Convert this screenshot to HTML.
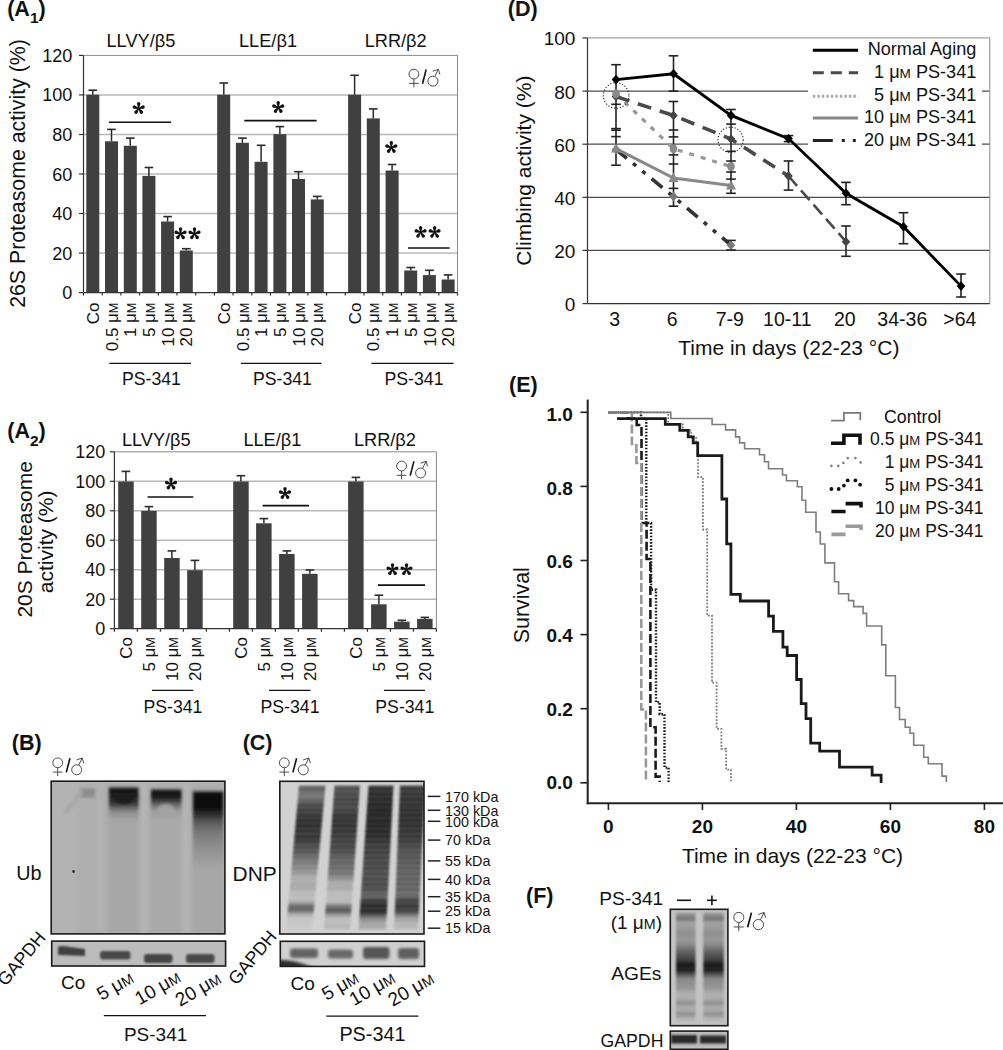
<!DOCTYPE html>
<html><head><meta charset="utf-8"><style>
html,body{margin:0;padding:0;background:#fff;overflow:hidden;}
svg{display:block;font-family:"Liberation Sans", sans-serif;}
</style></head><body>
<svg width="1003" height="1050" viewBox="0 0 1003 1050">
<rect width="1003" height="1050" fill="#fff"/>
<text x="7.2" y="15.7" font-size="21.5" text-anchor="start" font-weight="bold" fill="#111" >(A<tspan font-size="15.5" dy="7.2">1</tspan><tspan dy="-7.2">)</tspan></text>
<line x1="83.5" y1="253.1" x2="457.5" y2="253.1" stroke="#b8b8b8" stroke-width="1.5" />
<line x1="83.5" y1="213.5" x2="457.5" y2="213.5" stroke="#b8b8b8" stroke-width="1.5" />
<line x1="83.5" y1="174.0" x2="457.5" y2="174.0" stroke="#b8b8b8" stroke-width="1.5" />
<line x1="83.5" y1="134.5" x2="457.5" y2="134.5" stroke="#b8b8b8" stroke-width="1.5" />
<line x1="83.5" y1="94.9" x2="457.5" y2="94.9" stroke="#b8b8b8" stroke-width="1.5" />
<line x1="83.5" y1="55.4" x2="457.5" y2="55.4" stroke="#8a8a8a" stroke-width="1" />
<line x1="457.5" y1="55.4" x2="457.5" y2="292.6" stroke="#8a8a8a" stroke-width="1" />
<rect x="86.3" y="94.7" width="13.0" height="197.9" fill="#404040"/>
<line x1="92.8" y1="94.7" x2="92.8" y2="90.2" stroke="#2a2a2a" stroke-width="1.5" />
<line x1="88.5" y1="90.2" x2="97.1" y2="90.2" stroke="#2a2a2a" stroke-width="1.6" />
<rect x="105.0" y="141.3" width="13.0" height="151.3" fill="#404040"/>
<line x1="111.5" y1="141.3" x2="111.5" y2="129.4" stroke="#2a2a2a" stroke-width="1.5" />
<line x1="107.2" y1="129.4" x2="115.8" y2="129.4" stroke="#2a2a2a" stroke-width="1.6" />
<rect x="123.8" y="145.8" width="13.0" height="146.8" fill="#404040"/>
<line x1="130.2" y1="145.8" x2="130.2" y2="138.1" stroke="#2a2a2a" stroke-width="1.5" />
<line x1="126.0" y1="138.1" x2="134.6" y2="138.1" stroke="#2a2a2a" stroke-width="1.6" />
<rect x="142.4" y="175.9" width="13.0" height="116.7" fill="#404040"/>
<line x1="148.9" y1="175.9" x2="148.9" y2="167.5" stroke="#2a2a2a" stroke-width="1.5" />
<line x1="144.6" y1="167.5" x2="153.2" y2="167.5" stroke="#2a2a2a" stroke-width="1.6" />
<rect x="161.1" y="221.5" width="13.0" height="71.1" fill="#404040"/>
<line x1="167.6" y1="221.5" x2="167.6" y2="216.6" stroke="#2a2a2a" stroke-width="1.5" />
<line x1="163.3" y1="216.6" x2="171.9" y2="216.6" stroke="#2a2a2a" stroke-width="1.6" />
<rect x="179.8" y="250.5" width="13.0" height="42.1" fill="#404040"/>
<line x1="186.3" y1="250.5" x2="186.3" y2="248.7" stroke="#2a2a2a" stroke-width="1.5" />
<line x1="182.0" y1="248.7" x2="190.7" y2="248.7" stroke="#2a2a2a" stroke-width="1.6" />
<rect x="217.2" y="94.7" width="13.0" height="197.9" fill="#404040"/>
<line x1="223.8" y1="94.7" x2="223.8" y2="83.0" stroke="#2a2a2a" stroke-width="1.5" />
<line x1="219.4" y1="83.0" x2="228.1" y2="83.0" stroke="#2a2a2a" stroke-width="1.6" />
<rect x="235.9" y="142.8" width="13.0" height="149.8" fill="#404040"/>
<line x1="242.4" y1="142.8" x2="242.4" y2="138.1" stroke="#2a2a2a" stroke-width="1.5" />
<line x1="238.1" y1="138.1" x2="246.8" y2="138.1" stroke="#2a2a2a" stroke-width="1.6" />
<rect x="254.6" y="161.8" width="13.0" height="130.8" fill="#404040"/>
<line x1="261.1" y1="161.8" x2="261.1" y2="145.3" stroke="#2a2a2a" stroke-width="1.5" />
<line x1="256.8" y1="145.3" x2="265.4" y2="145.3" stroke="#2a2a2a" stroke-width="1.6" />
<rect x="273.4" y="134.1" width="13.0" height="158.5" fill="#404040"/>
<line x1="279.9" y1="134.1" x2="279.9" y2="126.6" stroke="#2a2a2a" stroke-width="1.5" />
<line x1="275.6" y1="126.6" x2="284.2" y2="126.6" stroke="#2a2a2a" stroke-width="1.6" />
<rect x="292.0" y="179.0" width="13.0" height="113.6" fill="#404040"/>
<line x1="298.5" y1="179.0" x2="298.5" y2="171.7" stroke="#2a2a2a" stroke-width="1.5" />
<line x1="294.2" y1="171.7" x2="302.8" y2="171.7" stroke="#2a2a2a" stroke-width="1.6" />
<rect x="310.8" y="199.4" width="13.0" height="93.2" fill="#404040"/>
<line x1="317.2" y1="199.4" x2="317.2" y2="196.4" stroke="#2a2a2a" stroke-width="1.5" />
<line x1="312.9" y1="196.4" x2="321.6" y2="196.4" stroke="#2a2a2a" stroke-width="1.6" />
<rect x="348.1" y="94.7" width="13.0" height="197.9" fill="#404040"/>
<line x1="354.6" y1="94.7" x2="354.6" y2="75.3" stroke="#2a2a2a" stroke-width="1.5" />
<line x1="350.3" y1="75.3" x2="358.9" y2="75.3" stroke="#2a2a2a" stroke-width="1.6" />
<rect x="366.8" y="118.4" width="13.0" height="174.2" fill="#404040"/>
<line x1="373.3" y1="118.4" x2="373.3" y2="108.9" stroke="#2a2a2a" stroke-width="1.5" />
<line x1="369.0" y1="108.9" x2="377.6" y2="108.9" stroke="#2a2a2a" stroke-width="1.6" />
<rect x="385.6" y="170.5" width="13.0" height="122.1" fill="#404040"/>
<line x1="392.1" y1="170.5" x2="392.1" y2="164.5" stroke="#2a2a2a" stroke-width="1.5" />
<line x1="387.8" y1="164.5" x2="396.4" y2="164.5" stroke="#2a2a2a" stroke-width="1.6" />
<rect x="404.2" y="270.5" width="13.0" height="22.1" fill="#404040"/>
<line x1="410.8" y1="270.5" x2="410.8" y2="267.5" stroke="#2a2a2a" stroke-width="1.5" />
<line x1="406.4" y1="267.5" x2="415.1" y2="267.5" stroke="#2a2a2a" stroke-width="1.6" />
<rect x="422.9" y="275.1" width="13.0" height="17.5" fill="#404040"/>
<line x1="429.4" y1="275.1" x2="429.4" y2="270.3" stroke="#2a2a2a" stroke-width="1.5" />
<line x1="425.1" y1="270.3" x2="433.8" y2="270.3" stroke="#2a2a2a" stroke-width="1.6" />
<rect x="441.6" y="279.5" width="13.0" height="13.1" fill="#404040"/>
<line x1="448.1" y1="279.5" x2="448.1" y2="274.9" stroke="#2a2a2a" stroke-width="1.5" />
<line x1="443.8" y1="274.9" x2="452.4" y2="274.9" stroke="#2a2a2a" stroke-width="1.6" />
<line x1="83.5" y1="55.4" x2="83.5" y2="293.1" stroke="#333" stroke-width="1.2" />
<line x1="83.0" y1="292.6" x2="457.5" y2="292.6" stroke="#333" stroke-width="1.3" />
<line x1="79.0" y1="292.6" x2="83.5" y2="292.6" stroke="#333" stroke-width="1.2" />
<text x="72.3" y="299.1" font-size="18" text-anchor="end" fill="#111" >0</text>
<line x1="79.0" y1="253.1" x2="83.5" y2="253.1" stroke="#333" stroke-width="1.2" />
<text x="72.3" y="259.5" font-size="18" text-anchor="end" fill="#111" >20</text>
<line x1="79.0" y1="213.5" x2="83.5" y2="213.5" stroke="#333" stroke-width="1.2" />
<text x="72.3" y="220.0" font-size="18" text-anchor="end" fill="#111" >40</text>
<line x1="79.0" y1="174.0" x2="83.5" y2="174.0" stroke="#333" stroke-width="1.2" />
<text x="72.3" y="180.5" font-size="18" text-anchor="end" fill="#111" >60</text>
<line x1="79.0" y1="134.5" x2="83.5" y2="134.5" stroke="#333" stroke-width="1.2" />
<text x="72.3" y="140.9" font-size="18" text-anchor="end" fill="#111" >80</text>
<line x1="79.0" y1="94.9" x2="83.5" y2="94.9" stroke="#333" stroke-width="1.2" />
<text x="72.3" y="101.4" font-size="18" text-anchor="end" fill="#111" >100</text>
<line x1="79.0" y1="55.4" x2="83.5" y2="55.4" stroke="#333" stroke-width="1.2" />
<text x="72.3" y="61.9" font-size="18" text-anchor="end" fill="#111" >120</text>
<line x1="83.5" y1="292.6" x2="83.5" y2="295.6" stroke="#333" stroke-width="1.2" />
<line x1="102.2" y1="292.6" x2="102.2" y2="295.6" stroke="#333" stroke-width="1.2" />
<line x1="120.9" y1="292.6" x2="120.9" y2="295.6" stroke="#333" stroke-width="1.2" />
<line x1="139.6" y1="292.6" x2="139.6" y2="295.6" stroke="#333" stroke-width="1.2" />
<line x1="158.3" y1="292.6" x2="158.3" y2="295.6" stroke="#333" stroke-width="1.2" />
<line x1="177.0" y1="292.6" x2="177.0" y2="295.6" stroke="#333" stroke-width="1.2" />
<line x1="195.7" y1="292.6" x2="195.7" y2="295.6" stroke="#333" stroke-width="1.2" />
<line x1="214.4" y1="292.6" x2="214.4" y2="295.6" stroke="#333" stroke-width="1.2" />
<line x1="233.1" y1="292.6" x2="233.1" y2="295.6" stroke="#333" stroke-width="1.2" />
<line x1="251.8" y1="292.6" x2="251.8" y2="295.6" stroke="#333" stroke-width="1.2" />
<line x1="270.5" y1="292.6" x2="270.5" y2="295.6" stroke="#333" stroke-width="1.2" />
<line x1="289.2" y1="292.6" x2="289.2" y2="295.6" stroke="#333" stroke-width="1.2" />
<line x1="307.9" y1="292.6" x2="307.9" y2="295.6" stroke="#333" stroke-width="1.2" />
<line x1="326.6" y1="292.6" x2="326.6" y2="295.6" stroke="#333" stroke-width="1.2" />
<line x1="345.3" y1="292.6" x2="345.3" y2="295.6" stroke="#333" stroke-width="1.2" />
<line x1="364.0" y1="292.6" x2="364.0" y2="295.6" stroke="#333" stroke-width="1.2" />
<line x1="382.7" y1="292.6" x2="382.7" y2="295.6" stroke="#333" stroke-width="1.2" />
<line x1="401.4" y1="292.6" x2="401.4" y2="295.6" stroke="#333" stroke-width="1.2" />
<line x1="420.1" y1="292.6" x2="420.1" y2="295.6" stroke="#333" stroke-width="1.2" />
<line x1="438.8" y1="292.6" x2="438.8" y2="295.6" stroke="#333" stroke-width="1.2" />
<line x1="457.5" y1="292.6" x2="457.5" y2="295.6" stroke="#333" stroke-width="1.2" />
<text x="140.9" y="46.9" font-size="18.2" text-anchor="middle" fill="#111" >LLVY/β5</text>
<text x="268.0" y="46.9" font-size="18.2" text-anchor="middle" fill="#111" >LLE/β1</text>
<text x="395.7" y="46.9" font-size="18.2" text-anchor="middle" fill="#111" >LRR/β2</text>
<g transform="translate(413.9,74.1) scale(1.0)" fill="none" stroke="#3a3a3a" stroke-width="0.9"><circle cx="0" cy="0" r="4.9"/><line x1="0" y1="4.9" x2="0" y2="13.4"/><line x1="-4.8" y1="9.3" x2="4.8" y2="9.3"/><line x1="8.6" y1="9.6" x2="12.3" y2="-4.6" stroke="#111" stroke-width="1.6"/><circle cx="19" cy="7" r="5"/><line x1="21" y1="2.3" x2="24.5" y2="-4.8"/><polyline points="18.8,-2.8 24.5,-4.8 26.0,0.4"/></g>
<line x1="108.9" y1="122.3" x2="171.1" y2="122.3" stroke="#111" stroke-width="1.6" />
<g transform="translate(138.7,108.5) scale(0.984)" fill="#111"><path d="M-0.55,0 L-1.45,-3.7 A1.75,1.75 0 1 1 1.45,-3.7 L0.55,0 Z" transform="rotate(0)"/><path d="M-0.55,0 L-1.45,-3.7 A1.75,1.75 0 1 1 1.45,-3.7 L0.55,0 Z" transform="rotate(72)"/><path d="M-0.55,0 L-1.45,-3.7 A1.75,1.75 0 1 1 1.45,-3.7 L0.55,0 Z" transform="rotate(144)"/><path d="M-0.55,0 L-1.45,-3.7 A1.75,1.75 0 1 1 1.45,-3.7 L0.55,0 Z" transform="rotate(216)"/><path d="M-0.55,0 L-1.45,-3.7 A1.75,1.75 0 1 1 1.45,-3.7 L0.55,0 Z" transform="rotate(288)"/><circle r="0.9"/></g>
<line x1="244.3" y1="120.6" x2="316.6" y2="120.6" stroke="#111" stroke-width="1.6" />
<g transform="translate(278.2,107.5) scale(0.984)" fill="#111"><path d="M-0.55,0 L-1.45,-3.7 A1.75,1.75 0 1 1 1.45,-3.7 L0.55,0 Z" transform="rotate(0)"/><path d="M-0.55,0 L-1.45,-3.7 A1.75,1.75 0 1 1 1.45,-3.7 L0.55,0 Z" transform="rotate(72)"/><path d="M-0.55,0 L-1.45,-3.7 A1.75,1.75 0 1 1 1.45,-3.7 L0.55,0 Z" transform="rotate(144)"/><path d="M-0.55,0 L-1.45,-3.7 A1.75,1.75 0 1 1 1.45,-3.7 L0.55,0 Z" transform="rotate(216)"/><path d="M-0.55,0 L-1.45,-3.7 A1.75,1.75 0 1 1 1.45,-3.7 L0.55,0 Z" transform="rotate(288)"/><circle r="0.9"/></g>
<g transform="translate(391.3,147.5) scale(0.984)" fill="#111"><path d="M-0.55,0 L-1.45,-3.7 A1.75,1.75 0 1 1 1.45,-3.7 L0.55,0 Z" transform="rotate(0)"/><path d="M-0.55,0 L-1.45,-3.7 A1.75,1.75 0 1 1 1.45,-3.7 L0.55,0 Z" transform="rotate(72)"/><path d="M-0.55,0 L-1.45,-3.7 A1.75,1.75 0 1 1 1.45,-3.7 L0.55,0 Z" transform="rotate(144)"/><path d="M-0.55,0 L-1.45,-3.7 A1.75,1.75 0 1 1 1.45,-3.7 L0.55,0 Z" transform="rotate(216)"/><path d="M-0.55,0 L-1.45,-3.7 A1.75,1.75 0 1 1 1.45,-3.7 L0.55,0 Z" transform="rotate(288)"/><circle r="0.9"/></g>
<g transform="translate(180.5,233.7) scale(0.984)" fill="#111"><path d="M-0.55,0 L-1.45,-3.7 A1.75,1.75 0 1 1 1.45,-3.7 L0.55,0 Z" transform="rotate(0)"/><path d="M-0.55,0 L-1.45,-3.7 A1.75,1.75 0 1 1 1.45,-3.7 L0.55,0 Z" transform="rotate(72)"/><path d="M-0.55,0 L-1.45,-3.7 A1.75,1.75 0 1 1 1.45,-3.7 L0.55,0 Z" transform="rotate(144)"/><path d="M-0.55,0 L-1.45,-3.7 A1.75,1.75 0 1 1 1.45,-3.7 L0.55,0 Z" transform="rotate(216)"/><path d="M-0.55,0 L-1.45,-3.7 A1.75,1.75 0 1 1 1.45,-3.7 L0.55,0 Z" transform="rotate(288)"/><circle r="0.9"/></g>
<g transform="translate(194.5,233.7) scale(0.984)" fill="#111"><path d="M-0.55,0 L-1.45,-3.7 A1.75,1.75 0 1 1 1.45,-3.7 L0.55,0 Z" transform="rotate(0)"/><path d="M-0.55,0 L-1.45,-3.7 A1.75,1.75 0 1 1 1.45,-3.7 L0.55,0 Z" transform="rotate(72)"/><path d="M-0.55,0 L-1.45,-3.7 A1.75,1.75 0 1 1 1.45,-3.7 L0.55,0 Z" transform="rotate(144)"/><path d="M-0.55,0 L-1.45,-3.7 A1.75,1.75 0 1 1 1.45,-3.7 L0.55,0 Z" transform="rotate(216)"/><path d="M-0.55,0 L-1.45,-3.7 A1.75,1.75 0 1 1 1.45,-3.7 L0.55,0 Z" transform="rotate(288)"/><circle r="0.9"/></g>
<line x1="408.0" y1="248.0" x2="449.6" y2="248.0" stroke="#111" stroke-width="1.6" />
<g transform="translate(420.6,232.3) scale(0.984)" fill="#111"><path d="M-0.55,0 L-1.45,-3.7 A1.75,1.75 0 1 1 1.45,-3.7 L0.55,0 Z" transform="rotate(0)"/><path d="M-0.55,0 L-1.45,-3.7 A1.75,1.75 0 1 1 1.45,-3.7 L0.55,0 Z" transform="rotate(72)"/><path d="M-0.55,0 L-1.45,-3.7 A1.75,1.75 0 1 1 1.45,-3.7 L0.55,0 Z" transform="rotate(144)"/><path d="M-0.55,0 L-1.45,-3.7 A1.75,1.75 0 1 1 1.45,-3.7 L0.55,0 Z" transform="rotate(216)"/><path d="M-0.55,0 L-1.45,-3.7 A1.75,1.75 0 1 1 1.45,-3.7 L0.55,0 Z" transform="rotate(288)"/><circle r="0.9"/></g>
<g transform="translate(434.6,232.3) scale(0.984)" fill="#111"><path d="M-0.55,0 L-1.45,-3.7 A1.75,1.75 0 1 1 1.45,-3.7 L0.55,0 Z" transform="rotate(0)"/><path d="M-0.55,0 L-1.45,-3.7 A1.75,1.75 0 1 1 1.45,-3.7 L0.55,0 Z" transform="rotate(72)"/><path d="M-0.55,0 L-1.45,-3.7 A1.75,1.75 0 1 1 1.45,-3.7 L0.55,0 Z" transform="rotate(144)"/><path d="M-0.55,0 L-1.45,-3.7 A1.75,1.75 0 1 1 1.45,-3.7 L0.55,0 Z" transform="rotate(216)"/><path d="M-0.55,0 L-1.45,-3.7 A1.75,1.75 0 1 1 1.45,-3.7 L0.55,0 Z" transform="rotate(288)"/><circle r="0.9"/></g>
<text transform="translate(24.5,173.5) rotate(-90)" font-size="21.3" text-anchor="middle" fill="#111">26S Proteasome activity (%)</text>
<text transform="translate(98.9,302.5) rotate(-90)" font-size="17" text-anchor="end" fill="#111">Co</text>
<text transform="translate(117.6,302.5) rotate(-90)" font-size="17" text-anchor="end" fill="#111">0.5 μ<tspan font-size="75%">M</tspan></text>
<text transform="translate(136.3,302.5) rotate(-90)" font-size="17" text-anchor="end" fill="#111">1 μ<tspan font-size="75%">M</tspan></text>
<text transform="translate(155.0,302.5) rotate(-90)" font-size="17" text-anchor="end" fill="#111">5 μ<tspan font-size="75%">M</tspan></text>
<text transform="translate(173.7,302.5) rotate(-90)" font-size="17" text-anchor="end" fill="#111">10 μ<tspan font-size="75%">M</tspan></text>
<text transform="translate(192.4,302.5) rotate(-90)" font-size="17" text-anchor="end" fill="#111">20 μ<tspan font-size="75%">M</tspan></text>
<text transform="translate(229.8,302.5) rotate(-90)" font-size="17" text-anchor="end" fill="#111">Co</text>
<text transform="translate(248.5,302.5) rotate(-90)" font-size="17" text-anchor="end" fill="#111">0.5 μ<tspan font-size="75%">M</tspan></text>
<text transform="translate(267.2,302.5) rotate(-90)" font-size="17" text-anchor="end" fill="#111">1 μ<tspan font-size="75%">M</tspan></text>
<text transform="translate(286.0,302.5) rotate(-90)" font-size="17" text-anchor="end" fill="#111">5 μ<tspan font-size="75%">M</tspan></text>
<text transform="translate(304.6,302.5) rotate(-90)" font-size="17" text-anchor="end" fill="#111">10 μ<tspan font-size="75%">M</tspan></text>
<text transform="translate(323.4,302.5) rotate(-90)" font-size="17" text-anchor="end" fill="#111">20 μ<tspan font-size="75%">M</tspan></text>
<text transform="translate(360.8,302.5) rotate(-90)" font-size="17" text-anchor="end" fill="#111">Co</text>
<text transform="translate(379.4,302.5) rotate(-90)" font-size="17" text-anchor="end" fill="#111">0.5 μ<tspan font-size="75%">M</tspan></text>
<text transform="translate(398.2,302.5) rotate(-90)" font-size="17" text-anchor="end" fill="#111">1 μ<tspan font-size="75%">M</tspan></text>
<text transform="translate(416.9,302.5) rotate(-90)" font-size="17" text-anchor="end" fill="#111">5 μ<tspan font-size="75%">M</tspan></text>
<text transform="translate(435.6,302.5) rotate(-90)" font-size="17" text-anchor="end" fill="#111">10 μ<tspan font-size="75%">M</tspan></text>
<text transform="translate(454.2,302.5) rotate(-90)" font-size="17" text-anchor="end" fill="#111">20 μ<tspan font-size="75%">M</tspan></text>
<line x1="109.3" y1="363.3" x2="191.0" y2="363.3" stroke="#111" stroke-width="1.3" />
<text x="151.4" y="385.3" font-size="17.7" text-anchor="middle" fill="#111" >PS-341</text>
<line x1="240.8" y1="363.3" x2="321.5" y2="363.3" stroke="#111" stroke-width="1.3" />
<text x="282.4" y="385.3" font-size="17.7" text-anchor="middle" fill="#111" >PS-341</text>
<line x1="371.4" y1="363.3" x2="453.6" y2="363.3" stroke="#111" stroke-width="1.3" />
<text x="414.0" y="385.3" font-size="17.7" text-anchor="middle" fill="#111" >PS-341</text>
<text x="7.3" y="438.4" font-size="21.5" text-anchor="start" font-weight="bold" fill="#111" >(A<tspan font-size="15.5" dy="7.3">2</tspan><tspan dy="-7.3">)</tspan></text>
<line x1="114.4" y1="599.2" x2="436.4" y2="599.2" stroke="#b8b8b8" stroke-width="1.5" />
<line x1="114.4" y1="569.7" x2="436.4" y2="569.7" stroke="#b8b8b8" stroke-width="1.5" />
<line x1="114.4" y1="540.2" x2="436.4" y2="540.2" stroke="#b8b8b8" stroke-width="1.5" />
<line x1="114.4" y1="510.8" x2="436.4" y2="510.8" stroke="#b8b8b8" stroke-width="1.5" />
<line x1="114.4" y1="481.3" x2="436.4" y2="481.3" stroke="#b8b8b8" stroke-width="1.5" />
<line x1="114.4" y1="451.8" x2="436.4" y2="451.8" stroke="#8a8a8a" stroke-width="1" />
<line x1="436.4" y1="451.8" x2="436.4" y2="628.7" stroke="#8a8a8a" stroke-width="1" />
<rect x="118.2" y="481.5" width="15.5" height="147.2" fill="#404040"/>
<line x1="125.9" y1="481.5" x2="125.9" y2="471.4" stroke="#2a2a2a" stroke-width="1.5" />
<line x1="121.6" y1="471.4" x2="130.2" y2="471.4" stroke="#2a2a2a" stroke-width="1.6" />
<rect x="141.2" y="510.9" width="15.5" height="117.8" fill="#404040"/>
<line x1="148.9" y1="510.9" x2="148.9" y2="506.6" stroke="#2a2a2a" stroke-width="1.5" />
<line x1="144.6" y1="506.6" x2="153.2" y2="506.6" stroke="#2a2a2a" stroke-width="1.6" />
<rect x="164.2" y="558.0" width="15.5" height="70.7" fill="#404040"/>
<line x1="171.9" y1="558.0" x2="171.9" y2="550.9" stroke="#2a2a2a" stroke-width="1.5" />
<line x1="167.6" y1="550.9" x2="176.2" y2="550.9" stroke="#2a2a2a" stroke-width="1.6" />
<rect x="187.2" y="570.2" width="15.5" height="58.5" fill="#404040"/>
<line x1="194.9" y1="570.2" x2="194.9" y2="560.4" stroke="#2a2a2a" stroke-width="1.5" />
<line x1="190.6" y1="560.4" x2="199.2" y2="560.4" stroke="#2a2a2a" stroke-width="1.6" />
<rect x="233.2" y="481.5" width="15.5" height="147.2" fill="#404040"/>
<line x1="240.9" y1="481.5" x2="240.9" y2="475.7" stroke="#2a2a2a" stroke-width="1.5" />
<line x1="236.6" y1="475.7" x2="245.2" y2="475.7" stroke="#2a2a2a" stroke-width="1.6" />
<rect x="256.1" y="523.3" width="15.5" height="105.4" fill="#404040"/>
<line x1="263.9" y1="523.3" x2="263.9" y2="518.6" stroke="#2a2a2a" stroke-width="1.5" />
<line x1="259.6" y1="518.6" x2="268.2" y2="518.6" stroke="#2a2a2a" stroke-width="1.6" />
<rect x="279.1" y="554.0" width="15.5" height="74.7" fill="#404040"/>
<line x1="286.9" y1="554.0" x2="286.9" y2="550.9" stroke="#2a2a2a" stroke-width="1.5" />
<line x1="282.6" y1="550.9" x2="291.2" y2="550.9" stroke="#2a2a2a" stroke-width="1.6" />
<rect x="302.1" y="573.8" width="15.5" height="54.9" fill="#404040"/>
<line x1="309.9" y1="573.8" x2="309.9" y2="570.0" stroke="#2a2a2a" stroke-width="1.5" />
<line x1="305.6" y1="570.0" x2="314.2" y2="570.0" stroke="#2a2a2a" stroke-width="1.6" />
<rect x="348.1" y="481.5" width="15.5" height="147.2" fill="#404040"/>
<line x1="355.9" y1="481.5" x2="355.9" y2="477.4" stroke="#2a2a2a" stroke-width="1.5" />
<line x1="351.6" y1="477.4" x2="360.2" y2="477.4" stroke="#2a2a2a" stroke-width="1.6" />
<rect x="371.1" y="604.3" width="15.5" height="24.4" fill="#404040"/>
<line x1="378.9" y1="604.3" x2="378.9" y2="595.2" stroke="#2a2a2a" stroke-width="1.5" />
<line x1="374.6" y1="595.2" x2="383.2" y2="595.2" stroke="#2a2a2a" stroke-width="1.6" />
<rect x="394.1" y="621.7" width="15.5" height="7.0" fill="#404040"/>
<line x1="401.9" y1="621.7" x2="401.9" y2="620.3" stroke="#2a2a2a" stroke-width="1.5" />
<line x1="397.6" y1="620.3" x2="406.2" y2="620.3" stroke="#2a2a2a" stroke-width="1.6" />
<rect x="417.1" y="618.9" width="15.5" height="9.8" fill="#404040"/>
<line x1="424.9" y1="618.9" x2="424.9" y2="617.4" stroke="#2a2a2a" stroke-width="1.5" />
<line x1="420.6" y1="617.4" x2="429.2" y2="617.4" stroke="#2a2a2a" stroke-width="1.6" />
<line x1="114.4" y1="451.8" x2="114.4" y2="629.2" stroke="#333" stroke-width="1.2" />
<line x1="113.9" y1="628.7" x2="436.4" y2="628.7" stroke="#333" stroke-width="1.3" />
<line x1="109.9" y1="628.7" x2="114.4" y2="628.7" stroke="#333" stroke-width="1.2" />
<text x="105.3" y="635.2" font-size="18" text-anchor="end" fill="#111" >0</text>
<line x1="109.9" y1="599.2" x2="114.4" y2="599.2" stroke="#333" stroke-width="1.2" />
<text x="105.3" y="605.7" font-size="18" text-anchor="end" fill="#111" >20</text>
<line x1="109.9" y1="569.7" x2="114.4" y2="569.7" stroke="#333" stroke-width="1.2" />
<text x="105.3" y="576.2" font-size="18" text-anchor="end" fill="#111" >40</text>
<line x1="109.9" y1="540.2" x2="114.4" y2="540.2" stroke="#333" stroke-width="1.2" />
<text x="105.3" y="546.7" font-size="18" text-anchor="end" fill="#111" >60</text>
<line x1="109.9" y1="510.8" x2="114.4" y2="510.8" stroke="#333" stroke-width="1.2" />
<text x="105.3" y="517.2" font-size="18" text-anchor="end" fill="#111" >80</text>
<line x1="109.9" y1="481.3" x2="114.4" y2="481.3" stroke="#333" stroke-width="1.2" />
<text x="105.3" y="487.8" font-size="18" text-anchor="end" fill="#111" >100</text>
<line x1="109.9" y1="451.8" x2="114.4" y2="451.8" stroke="#333" stroke-width="1.2" />
<text x="105.3" y="458.3" font-size="18" text-anchor="end" fill="#111" >120</text>
<line x1="114.4" y1="628.7" x2="114.4" y2="631.7" stroke="#333" stroke-width="1.2" />
<line x1="137.4" y1="628.7" x2="137.4" y2="631.7" stroke="#333" stroke-width="1.2" />
<line x1="160.4" y1="628.7" x2="160.4" y2="631.7" stroke="#333" stroke-width="1.2" />
<line x1="183.4" y1="628.7" x2="183.4" y2="631.7" stroke="#333" stroke-width="1.2" />
<line x1="206.4" y1="628.7" x2="206.4" y2="631.7" stroke="#333" stroke-width="1.2" />
<line x1="229.4" y1="628.7" x2="229.4" y2="631.7" stroke="#333" stroke-width="1.2" />
<line x1="252.4" y1="628.7" x2="252.4" y2="631.7" stroke="#333" stroke-width="1.2" />
<line x1="275.4" y1="628.7" x2="275.4" y2="631.7" stroke="#333" stroke-width="1.2" />
<line x1="298.4" y1="628.7" x2="298.4" y2="631.7" stroke="#333" stroke-width="1.2" />
<line x1="321.4" y1="628.7" x2="321.4" y2="631.7" stroke="#333" stroke-width="1.2" />
<line x1="344.4" y1="628.7" x2="344.4" y2="631.7" stroke="#333" stroke-width="1.2" />
<line x1="367.4" y1="628.7" x2="367.4" y2="631.7" stroke="#333" stroke-width="1.2" />
<line x1="390.4" y1="628.7" x2="390.4" y2="631.7" stroke="#333" stroke-width="1.2" />
<line x1="413.4" y1="628.7" x2="413.4" y2="631.7" stroke="#333" stroke-width="1.2" />
<line x1="436.4" y1="628.7" x2="436.4" y2="631.7" stroke="#333" stroke-width="1.2" />
<text x="156.3" y="445.8" font-size="18.2" text-anchor="middle" fill="#111" >LLVY/β5</text>
<text x="272.4" y="445.8" font-size="18.2" text-anchor="middle" fill="#111" >LLE/β1</text>
<text x="384.9" y="445.8" font-size="18.2" text-anchor="middle" fill="#111" >LRR/β2</text>
<g transform="translate(401.6,466.0) scale(1.0)" fill="none" stroke="#3a3a3a" stroke-width="0.9"><circle cx="0" cy="0" r="4.9"/><line x1="0" y1="4.9" x2="0" y2="13.4"/><line x1="-4.8" y1="9.3" x2="4.8" y2="9.3"/><line x1="8.6" y1="9.6" x2="12.3" y2="-4.6" stroke="#111" stroke-width="1.6"/><circle cx="19" cy="7" r="5"/><line x1="21" y1="2.3" x2="24.5" y2="-4.8"/><polyline points="18.8,-2.8 24.5,-4.8 26.0,0.4"/></g>
<line x1="147.6" y1="497.0" x2="193.3" y2="497.0" stroke="#111" stroke-width="1.6" />
<g transform="translate(171.0,484.0) scale(0.984)" fill="#111"><path d="M-0.55,0 L-1.45,-3.7 A1.75,1.75 0 1 1 1.45,-3.7 L0.55,0 Z" transform="rotate(0)"/><path d="M-0.55,0 L-1.45,-3.7 A1.75,1.75 0 1 1 1.45,-3.7 L0.55,0 Z" transform="rotate(72)"/><path d="M-0.55,0 L-1.45,-3.7 A1.75,1.75 0 1 1 1.45,-3.7 L0.55,0 Z" transform="rotate(144)"/><path d="M-0.55,0 L-1.45,-3.7 A1.75,1.75 0 1 1 1.45,-3.7 L0.55,0 Z" transform="rotate(216)"/><path d="M-0.55,0 L-1.45,-3.7 A1.75,1.75 0 1 1 1.45,-3.7 L0.55,0 Z" transform="rotate(288)"/><circle r="0.9"/></g>
<line x1="262.6" y1="505.6" x2="309.0" y2="505.6" stroke="#111" stroke-width="1.6" />
<g transform="translate(285.0,493.5) scale(0.984)" fill="#111"><path d="M-0.55,0 L-1.45,-3.7 A1.75,1.75 0 1 1 1.45,-3.7 L0.55,0 Z" transform="rotate(0)"/><path d="M-0.55,0 L-1.45,-3.7 A1.75,1.75 0 1 1 1.45,-3.7 L0.55,0 Z" transform="rotate(72)"/><path d="M-0.55,0 L-1.45,-3.7 A1.75,1.75 0 1 1 1.45,-3.7 L0.55,0 Z" transform="rotate(144)"/><path d="M-0.55,0 L-1.45,-3.7 A1.75,1.75 0 1 1 1.45,-3.7 L0.55,0 Z" transform="rotate(216)"/><path d="M-0.55,0 L-1.45,-3.7 A1.75,1.75 0 1 1 1.45,-3.7 L0.55,0 Z" transform="rotate(288)"/><circle r="0.9"/></g>
<line x1="377.9" y1="585.1" x2="425.0" y2="585.1" stroke="#111" stroke-width="1.6" />
<g transform="translate(392.5,569.6) scale(0.984)" fill="#111"><path d="M-0.55,0 L-1.45,-3.7 A1.75,1.75 0 1 1 1.45,-3.7 L0.55,0 Z" transform="rotate(0)"/><path d="M-0.55,0 L-1.45,-3.7 A1.75,1.75 0 1 1 1.45,-3.7 L0.55,0 Z" transform="rotate(72)"/><path d="M-0.55,0 L-1.45,-3.7 A1.75,1.75 0 1 1 1.45,-3.7 L0.55,0 Z" transform="rotate(144)"/><path d="M-0.55,0 L-1.45,-3.7 A1.75,1.75 0 1 1 1.45,-3.7 L0.55,0 Z" transform="rotate(216)"/><path d="M-0.55,0 L-1.45,-3.7 A1.75,1.75 0 1 1 1.45,-3.7 L0.55,0 Z" transform="rotate(288)"/><circle r="0.9"/></g>
<g transform="translate(406.5,569.6) scale(0.984)" fill="#111"><path d="M-0.55,0 L-1.45,-3.7 A1.75,1.75 0 1 1 1.45,-3.7 L0.55,0 Z" transform="rotate(0)"/><path d="M-0.55,0 L-1.45,-3.7 A1.75,1.75 0 1 1 1.45,-3.7 L0.55,0 Z" transform="rotate(72)"/><path d="M-0.55,0 L-1.45,-3.7 A1.75,1.75 0 1 1 1.45,-3.7 L0.55,0 Z" transform="rotate(144)"/><path d="M-0.55,0 L-1.45,-3.7 A1.75,1.75 0 1 1 1.45,-3.7 L0.55,0 Z" transform="rotate(216)"/><path d="M-0.55,0 L-1.45,-3.7 A1.75,1.75 0 1 1 1.45,-3.7 L0.55,0 Z" transform="rotate(288)"/><circle r="0.9"/></g>
<text transform="translate(31.7,539.4) rotate(-90)" font-size="21" text-anchor="middle" fill="#111">20S Proteasome</text>
<text transform="translate(53.0,541.8) rotate(-90)" font-size="21" text-anchor="middle" fill="#111">activity (%)</text>
<text transform="translate(132.0,637.0) rotate(-90)" font-size="17" text-anchor="end" fill="#111">Co</text>
<text transform="translate(155.0,637.0) rotate(-90)" font-size="17" text-anchor="end" fill="#111">5 μ<tspan font-size="75%">M</tspan></text>
<text transform="translate(178.0,637.0) rotate(-90)" font-size="17" text-anchor="end" fill="#111">10 μ<tspan font-size="75%">M</tspan></text>
<text transform="translate(201.0,637.0) rotate(-90)" font-size="17" text-anchor="end" fill="#111">20 μ<tspan font-size="75%">M</tspan></text>
<text transform="translate(247.0,637.0) rotate(-90)" font-size="17" text-anchor="end" fill="#111">Co</text>
<text transform="translate(270.0,637.0) rotate(-90)" font-size="17" text-anchor="end" fill="#111">5 μ<tspan font-size="75%">M</tspan></text>
<text transform="translate(293.0,637.0) rotate(-90)" font-size="17" text-anchor="end" fill="#111">10 μ<tspan font-size="75%">M</tspan></text>
<text transform="translate(316.0,637.0) rotate(-90)" font-size="17" text-anchor="end" fill="#111">20 μ<tspan font-size="75%">M</tspan></text>
<text transform="translate(362.0,637.0) rotate(-90)" font-size="17" text-anchor="end" fill="#111">Co</text>
<text transform="translate(385.0,637.0) rotate(-90)" font-size="17" text-anchor="end" fill="#111">5 μ<tspan font-size="75%">M</tspan></text>
<text transform="translate(408.0,637.0) rotate(-90)" font-size="17" text-anchor="end" fill="#111">10 μ<tspan font-size="75%">M</tspan></text>
<text transform="translate(431.0,637.0) rotate(-90)" font-size="17" text-anchor="end" fill="#111">20 μ<tspan font-size="75%">M</tspan></text>
<line x1="151.9" y1="690.3" x2="193.3" y2="690.3" stroke="#111" stroke-width="1.3" />
<text x="172.9" y="712.7" font-size="17.7" text-anchor="middle" fill="#111" >PS-341</text>
<line x1="269.0" y1="690.3" x2="310.4" y2="690.3" stroke="#111" stroke-width="1.3" />
<text x="290.0" y="712.7" font-size="17.7" text-anchor="middle" fill="#111" >PS-341</text>
<line x1="383.9" y1="690.3" x2="425.0" y2="690.3" stroke="#111" stroke-width="1.3" />
<text x="404.8" y="712.7" font-size="17.7" text-anchor="middle" fill="#111" >PS-341</text>
<line x1="587.5" y1="250.4" x2="989.8" y2="250.4" stroke="#4d4d4d" stroke-width="1.2" />
<line x1="587.5" y1="197.3" x2="989.8" y2="197.3" stroke="#4d4d4d" stroke-width="1.2" />
<line x1="587.5" y1="144.2" x2="989.8" y2="144.2" stroke="#4d4d4d" stroke-width="1.2" />
<line x1="587.5" y1="91.1" x2="989.8" y2="91.1" stroke="#4d4d4d" stroke-width="1.2" />
<line x1="587.5" y1="37.9" x2="989.8" y2="37.9" stroke="#8a8a8a" stroke-width="1" />
<line x1="989.8" y1="37.9" x2="989.8" y2="303.6" stroke="#8a8a8a" stroke-width="1" />
<line x1="587.5" y1="37.9" x2="587.5" y2="303.6" stroke="#333" stroke-width="1.2" />
<line x1="587.5" y1="303.6" x2="989.8" y2="303.6" stroke="#333" stroke-width="1.3" />
<line x1="582.5" y1="303.6" x2="587.5" y2="303.6" stroke="#333" stroke-width="1.2" />
<text x="575.4" y="311.1" font-size="19" text-anchor="end" fill="#111" >0</text>
<line x1="582.5" y1="250.4" x2="587.5" y2="250.4" stroke="#333" stroke-width="1.2" />
<text x="575.4" y="257.9" font-size="19" text-anchor="end" fill="#111" >20</text>
<line x1="582.5" y1="197.3" x2="587.5" y2="197.3" stroke="#333" stroke-width="1.2" />
<text x="575.4" y="204.8" font-size="19" text-anchor="end" fill="#111" >40</text>
<line x1="582.5" y1="144.2" x2="587.5" y2="144.2" stroke="#333" stroke-width="1.2" />
<text x="575.4" y="151.7" font-size="19" text-anchor="end" fill="#111" >60</text>
<line x1="582.5" y1="91.1" x2="587.5" y2="91.1" stroke="#333" stroke-width="1.2" />
<text x="575.4" y="98.6" font-size="19" text-anchor="end" fill="#111" >80</text>
<line x1="582.5" y1="37.9" x2="587.5" y2="37.9" stroke="#333" stroke-width="1.2" />
<text x="575.4" y="45.4" font-size="19" text-anchor="end" fill="#111" >100</text>
<text x="614.8" y="326.0" font-size="19.5" text-anchor="middle" fill="#111" >3</text>
<text x="672.3" y="326.0" font-size="19.5" text-anchor="middle" fill="#111" >6</text>
<text x="729.8" y="326.0" font-size="19.5" text-anchor="middle" fill="#111" >7-9</text>
<text x="787.3" y="326.0" font-size="19.5" text-anchor="middle" fill="#111" >10-11</text>
<text x="844.8" y="326.0" font-size="19.5" text-anchor="middle" fill="#111" >20</text>
<text x="902.3" y="326.0" font-size="19.5" text-anchor="middle" fill="#111" >34-36</text>
<text x="959.8" y="326.0" font-size="19.5" text-anchor="middle" fill="#111" >&gt;64</text>
<text x="788.8" y="355.0" font-size="21" text-anchor="middle" fill="#111" >Time in days (22-23 °C)</text>
<text transform="translate(531.3,170.7) rotate(-90)" font-size="21" text-anchor="middle" fill="#111">Climbing activity (%)</text>
<text x="507.8" y="16.0" font-size="21.5" text-anchor="start" font-weight="bold" fill="#111" >(D)</text>
<rect x="808" y="39" width="174" height="112" fill="#fff"/>
<line x1="616.0" y1="64.7" x2="616.0" y2="165.2" stroke="#222" stroke-width="1.6" />
<line x1="673.5" y1="55.8" x2="673.5" y2="91.2" stroke="#222" stroke-width="1.6" />
<line x1="673.5" y1="101.5" x2="673.5" y2="206.2" stroke="#222" stroke-width="1.6" />
<line x1="731.0" y1="109.5" x2="731.0" y2="193.3" stroke="#222" stroke-width="1.6" />
<line x1="731.0" y1="240.4" x2="731.0" y2="250.0" stroke="#222" stroke-width="1.6" />
<line x1="788.5" y1="135.6" x2="788.5" y2="141.6" stroke="#222" stroke-width="1.6" />
<line x1="788.5" y1="161.0" x2="788.5" y2="190.1" stroke="#222" stroke-width="1.6" />
<line x1="846.0" y1="182.4" x2="846.0" y2="204.7" stroke="#222" stroke-width="1.6" />
<line x1="846.0" y1="226.0" x2="846.0" y2="256.3" stroke="#222" stroke-width="1.6" />
<line x1="903.5" y1="212.7" x2="903.5" y2="243.7" stroke="#222" stroke-width="1.6" />
<line x1="961.0" y1="274.0" x2="961.0" y2="297.0" stroke="#222" stroke-width="1.6" />
<line x1="611.2" y1="64.7" x2="620.8" y2="64.7" stroke="#222" stroke-width="1.6" />
<line x1="611.2" y1="104.3" x2="620.8" y2="104.3" stroke="#222" stroke-width="1.6" />
<line x1="611.2" y1="128.6" x2="620.8" y2="128.6" stroke="#222" stroke-width="1.6" />
<line x1="611.2" y1="130.2" x2="620.8" y2="130.2" stroke="#222" stroke-width="1.6" />
<line x1="611.2" y1="136.6" x2="620.8" y2="136.6" stroke="#222" stroke-width="1.6" />
<line x1="611.2" y1="165.2" x2="620.8" y2="165.2" stroke="#222" stroke-width="1.6" />
<line x1="668.7" y1="55.8" x2="678.3" y2="55.8" stroke="#222" stroke-width="1.6" />
<line x1="668.7" y1="91.2" x2="678.3" y2="91.2" stroke="#222" stroke-width="1.6" />
<line x1="668.7" y1="101.5" x2="678.3" y2="101.5" stroke="#222" stroke-width="1.6" />
<line x1="668.7" y1="130.0" x2="678.3" y2="130.0" stroke="#222" stroke-width="1.6" />
<line x1="668.7" y1="136.9" x2="678.3" y2="136.9" stroke="#222" stroke-width="1.6" />
<line x1="668.7" y1="154.9" x2="678.3" y2="154.9" stroke="#222" stroke-width="1.6" />
<line x1="668.7" y1="164.0" x2="678.3" y2="164.0" stroke="#222" stroke-width="1.6" />
<line x1="668.7" y1="188.4" x2="678.3" y2="188.4" stroke="#222" stroke-width="1.6" />
<line x1="668.7" y1="206.2" x2="678.3" y2="206.2" stroke="#222" stroke-width="1.6" />
<line x1="726.2" y1="109.5" x2="735.8" y2="109.5" stroke="#222" stroke-width="1.6" />
<line x1="726.2" y1="124.1" x2="735.8" y2="124.1" stroke="#222" stroke-width="1.6" />
<line x1="726.2" y1="151.3" x2="735.8" y2="151.3" stroke="#222" stroke-width="1.6" />
<line x1="726.2" y1="161.0" x2="735.8" y2="161.0" stroke="#222" stroke-width="1.6" />
<line x1="726.2" y1="172.0" x2="735.8" y2="172.0" stroke="#222" stroke-width="1.6" />
<line x1="726.2" y1="179.1" x2="735.8" y2="179.1" stroke="#222" stroke-width="1.6" />
<line x1="726.2" y1="193.3" x2="735.8" y2="193.3" stroke="#222" stroke-width="1.6" />
<line x1="726.2" y1="240.4" x2="735.8" y2="240.4" stroke="#222" stroke-width="1.6" />
<line x1="726.2" y1="250.0" x2="735.8" y2="250.0" stroke="#222" stroke-width="1.6" />
<line x1="783.7" y1="135.6" x2="793.3" y2="135.6" stroke="#222" stroke-width="1.6" />
<line x1="783.7" y1="141.6" x2="793.3" y2="141.6" stroke="#222" stroke-width="1.6" />
<line x1="783.7" y1="161.0" x2="793.3" y2="161.0" stroke="#222" stroke-width="1.6" />
<line x1="783.7" y1="190.1" x2="793.3" y2="190.1" stroke="#222" stroke-width="1.6" />
<line x1="841.2" y1="182.4" x2="850.8" y2="182.4" stroke="#222" stroke-width="1.6" />
<line x1="841.2" y1="204.7" x2="850.8" y2="204.7" stroke="#222" stroke-width="1.6" />
<line x1="841.2" y1="226.0" x2="850.8" y2="226.0" stroke="#222" stroke-width="1.6" />
<line x1="841.2" y1="256.3" x2="850.8" y2="256.3" stroke="#222" stroke-width="1.6" />
<line x1="898.7" y1="212.7" x2="908.3" y2="212.7" stroke="#222" stroke-width="1.6" />
<line x1="898.7" y1="243.7" x2="908.3" y2="243.7" stroke="#222" stroke-width="1.6" />
<line x1="956.2" y1="274.0" x2="965.8" y2="274.0" stroke="#222" stroke-width="1.6" />
<line x1="956.2" y1="297.0" x2="965.8" y2="297.0" stroke="#222" stroke-width="1.6" />
<polyline points="616.0,149.5 673.5,196.6 731.0,245.2" fill="none" stroke="#333" stroke-width="3.6" stroke-dasharray="14 8 4 8 4 8"/>
<polyline points="616.0,148.6 673.5,178.0 731.0,185.4" fill="none" stroke="#888" stroke-width="3"/>
<polyline points="616.0,93.8 673.5,148.8 731.0,166.5" fill="none" stroke="#999" stroke-width="3.2" stroke-dasharray="5 7"/>
<polyline points="616.0,96.5 673.5,115.5 731.0,139.0 788.5,176.0" fill="none" stroke="#4a4a4a" stroke-width="3.6" stroke-dasharray="14 9"/>
<polyline points="788.5,176.0 846.0,241.7" fill="none" stroke="#4a4a4a" stroke-width="2.6" stroke-dasharray="13 6"/>
<polyline points="616.0,79.6 673.5,73.8 731.0,115.4 788.5,138.6 846.0,193.3 903.5,226.7 961.0,286.1" fill="none" stroke="#000" stroke-width="2.8"/>
<path d="M616.0,144.7 L620.3,149.5 L616.0,154.3 L611.7,149.5 Z" fill="#7a7a7a"/>
<path d="M673.5,191.8 L677.8,196.6 L673.5,201.4 L669.2,196.6 Z" fill="#7a7a7a"/>
<path d="M731.0,240.4 L735.3,245.2 L731.0,250.0 L726.7,245.2 Z" fill="#7a7a7a"/>
<path d="M616.0,143.1 L621.0,152.6 L611.0,152.6 Z" fill="#888"/>
<path d="M673.5,172.5 L678.5,182.0 L668.5,182.0 Z" fill="#888"/>
<path d="M731.0,179.9 L736.0,189.4 L726.0,189.4 Z" fill="#888"/>
<path d="M616.0,91.7 L620.3,96.5 L616.0,101.3 L611.7,96.5 Z" fill="#444"/>
<path d="M673.5,110.7 L677.8,115.5 L673.5,120.3 L669.2,115.5 Z" fill="#444"/>
<path d="M731.0,134.2 L735.3,139.0 L731.0,143.8 L726.7,139.0 Z" fill="#444"/>
<path d="M788.5,171.2 L792.8,176.0 L788.5,180.8 L784.2,176.0 Z" fill="#444"/>
<path d="M846.0,236.9 L850.3,241.7 L846.0,246.5 L841.7,241.7 Z" fill="#444"/>
<ellipse cx="616.0" cy="93.8" rx="3.8" ry="4.6" fill="#8a8a8a"/>
<ellipse cx="673.5" cy="148.8" rx="3.8" ry="4.6" fill="#8a8a8a"/>
<ellipse cx="731.0" cy="166.5" rx="3.8" ry="4.6" fill="#8a8a8a"/>
<path d="M616.0,74.8 L620.3,79.6 L616.0,84.4 L611.7,79.6 Z" fill="#000"/>
<path d="M673.5,69.0 L677.8,73.8 L673.5,78.6 L669.2,73.8 Z" fill="#000"/>
<path d="M731.0,110.6 L735.3,115.4 L731.0,120.2 L726.7,115.4 Z" fill="#000"/>
<path d="M788.5,133.8 L792.8,138.6 L788.5,143.4 L784.2,138.6 Z" fill="#000"/>
<path d="M846.0,188.5 L850.3,193.3 L846.0,198.1 L841.7,193.3 Z" fill="#000"/>
<path d="M903.5,221.9 L907.8,226.7 L903.5,231.5 L899.2,226.7 Z" fill="#000"/>
<path d="M961.0,281.3 L965.3,286.1 L961.0,290.9 L956.7,286.1 Z" fill="#000"/>
<circle cx="616.1" cy="95.5" r="12.8" fill="none" stroke="#222" stroke-width="1.1" stroke-dasharray="1.2 1.8"/>
<circle cx="730.6" cy="139.8" r="12.6" fill="none" stroke="#222" stroke-width="1.1" stroke-dasharray="1.2 1.8"/>
<line x1="812.8" y1="50.3" x2="858.1" y2="50.3" stroke="#000" stroke-width="3" />
<line x1="812.8" y1="72.8" x2="858.1" y2="72.8" stroke="#4a4a4a" stroke-width="3" stroke-dasharray="11 7"/>
<line x1="812.8" y1="96.3" x2="858.1" y2="96.3" stroke="#aaa" stroke-width="3" stroke-dasharray="2.5 2"/>
<line x1="812.8" y1="118.1" x2="858.1" y2="118.1" stroke="#888" stroke-width="3" />
<line x1="812.8" y1="140.6" x2="858.1" y2="140.6" stroke="#222" stroke-width="3" stroke-dasharray="20 9 3 8 3 20"/>
<text x="976.3" y="55.2" font-size="18.1" text-anchor="end" fill="#111" >Normal Aging</text>
<text x="976.3" y="77.7" font-size="18.1" text-anchor="end" fill="#111" >1 μ<tspan font-size="75%">M</tspan> PS-341</text>
<text x="976.3" y="101.2" font-size="18.1" text-anchor="end" fill="#111" >5 μ<tspan font-size="75%">M</tspan> PS-341</text>
<text x="976.3" y="123.0" font-size="18.1" text-anchor="end" fill="#111" >10 μ<tspan font-size="75%">M</tspan> PS-341</text>
<text x="976.3" y="145.5" font-size="18.1" text-anchor="end" fill="#111" >20 μ<tspan font-size="75%">M</tspan> PS-341</text>
<text x="509.0" y="391.7" font-size="21.5" text-anchor="start" font-weight="bold" fill="#111" >(E)</text>
<path d="M608,412.4 H627.5 V418.5 H636.7 V425 H641.5 V523 H646.6 V559 H650.4 V727.2 H655.6 V776.6 H659.7 V782" fill="none" stroke="#1a1a1a" stroke-width="2.6" stroke-dasharray="9 3"/>
<path d="M608,412.4 H641 V418.5 H646.3 V523 H651.1 V589.7 H656 V702.1 H659.7 V714.2 H664.5 V767.6 H668.6 V782" fill="none" stroke="#1a1a1a" stroke-width="2.4" stroke-dasharray="1.6 1.6"/>
<path d="M608,412.4 H631.9 V444 H636.4 V463 H641.3 V709.4 H645.9 V782.2" fill="none" stroke="#999" stroke-width="2.6" stroke-dasharray="9 3"/>
<path d="M612,412.4 H668.3 V424.4 H682.8 V430.4 H691.2 V436.9 H696.2 V442.9 H698 V477.1 H702.9 V529.5 H707.2 V615.6 H712 V682.7 H716.6 V728.8 H721.4 V748.8 H726.1 V769.7 H730.9 V781.3" fill="none" stroke="#7a7a7a" stroke-width="1.8" stroke-dasharray="1.8 1.6"/>
<path d="M608,412.4 H670.8 V418.5 H712.1 V424.5 H725.6 V429.9 H735.6 V436.9 H739.6 V442.9 H744.6 V448.8 H759.5 V454.8 H764.5 V461.8 H768.5 V468.8 H782.5 V475 H786.4 V480.7 H797.4 V486.7 H802 V500.3 H805.7 V512.3 H816 V532 H820.3 V544 H824.9 V562.9 H834.5 V581.7 H838.6 V593.7 H848.6 V600.6 H853.7 V606.6 H863.1 V613.4 H866.6 V626 H881.7 V644.9 H885.8 V675.7 H895.4 V707.5 H899.5 V719.5 H905.2 V727.2 H910 V733.2 H913.7 V745.2 H923.7 V757.2 H928.3 V763.7 H942 V776.1 H946.3 V782.1" fill="none" stroke="#7d7d7d" stroke-width="1.6"/>
<path d="M617,418.6 H665.3 V424.4 H679.8 V430.4 H688.2 V436.9 H693.2 V442.9 H697.7 V455.7 H721.9 V499 H726.7 V543.8 H730.9 V594.3 H740.3 V601 H768.6 V616.1 H773.4 V631.3 H782.9 V647.1 H787.2 V655.5 H796.6 V679.5 H801.2 V703.7 H806 V718.6 H810.7 V743.2 H819.7 V751.2 H839.5 V767.2 H872.1 V775.2 H881.1 V783" fill="none" stroke="#1a1a1a" stroke-width="2.8"/>
<line x1="587.7" y1="399.5" x2="587.7" y2="804.3" stroke="#222" stroke-width="2" />
<line x1="586.7" y1="803.3" x2="1003.0" y2="803.3" stroke="#222" stroke-width="2" />
<line x1="580.4" y1="782.8" x2="587.7" y2="782.8" stroke="#222" stroke-width="1.6" />
<text x="572.8" y="789.3" font-size="19" text-anchor="end" font-weight="bold" fill="#111" >0.0</text>
<line x1="580.4" y1="708.7" x2="587.7" y2="708.7" stroke="#222" stroke-width="1.6" />
<text x="572.8" y="715.7" font-size="19" text-anchor="end" font-weight="bold" fill="#111" >0.2</text>
<line x1="580.4" y1="634.6" x2="587.7" y2="634.6" stroke="#222" stroke-width="1.6" />
<text x="572.8" y="642.0" font-size="19" text-anchor="end" font-weight="bold" fill="#111" >0.4</text>
<line x1="580.4" y1="560.5" x2="587.7" y2="560.5" stroke="#222" stroke-width="1.6" />
<text x="572.8" y="568.4" font-size="19" text-anchor="end" font-weight="bold" fill="#111" >0.6</text>
<line x1="580.4" y1="486.4" x2="587.7" y2="486.4" stroke="#222" stroke-width="1.6" />
<text x="572.8" y="494.7" font-size="19" text-anchor="end" font-weight="bold" fill="#111" >0.8</text>
<line x1="580.4" y1="412.3" x2="587.7" y2="412.3" stroke="#222" stroke-width="1.6" />
<text x="572.8" y="421.1" font-size="19" text-anchor="end" font-weight="bold" fill="#111" >1.0</text>
<line x1="608.4" y1="803.3" x2="608.4" y2="810.0" stroke="#222" stroke-width="1.6" />
<text x="608.4" y="833.1" font-size="19" text-anchor="middle" font-weight="bold" fill="#111" >0</text>
<line x1="702.4" y1="803.3" x2="702.4" y2="810.0" stroke="#222" stroke-width="1.6" />
<text x="702.4" y="833.1" font-size="19" text-anchor="middle" font-weight="bold" fill="#111" >20</text>
<line x1="796.4" y1="803.3" x2="796.4" y2="810.0" stroke="#222" stroke-width="1.6" />
<text x="796.4" y="833.1" font-size="19" text-anchor="middle" font-weight="bold" fill="#111" >40</text>
<line x1="890.4" y1="803.3" x2="890.4" y2="810.0" stroke="#222" stroke-width="1.6" />
<text x="890.4" y="833.1" font-size="19" text-anchor="middle" font-weight="bold" fill="#111" >60</text>
<line x1="984.4" y1="803.3" x2="984.4" y2="810.0" stroke="#222" stroke-width="1.6" />
<text x="984.4" y="833.1" font-size="19" text-anchor="middle" font-weight="bold" fill="#111" >80</text>
<text x="792.5" y="862.7" font-size="21" text-anchor="middle" fill="#111" >Time in days (22-23 °C)</text>
<text transform="translate(528.6,605.2) rotate(-90)" font-size="21.4" text-anchor="middle" fill="#111">Survival</text>
<path d="M831,420.6 H843.9 V412.9 H860.3 V420.3" fill="none" stroke="#7a7a7a" stroke-width="1.8"/>
<path d="M831,443.3 H843.9 V435.2 H860 V444.8" fill="none" stroke="#111" stroke-width="3.6"/>
<circle cx="831.4" cy="465.9" r="1.3" fill="#808080"/>
<circle cx="838.3" cy="465.9" r="1.3" fill="#808080"/>
<circle cx="843.4" cy="462.9" r="1.3" fill="#808080"/>
<circle cx="847.7" cy="458.1" r="1.3" fill="#808080"/>
<circle cx="855.4" cy="458.1" r="1.3" fill="#808080"/>
<circle cx="860.6" cy="462.4" r="1.3" fill="#808080"/>
<circle cx="831.4" cy="489" r="1.9" fill="#111"/>
<circle cx="838.7" cy="489" r="1.9" fill="#111"/>
<circle cx="843.9" cy="485.6" r="1.9" fill="#111"/>
<circle cx="847.7" cy="480.4" r="1.9" fill="#111"/>
<circle cx="855.4" cy="480.4" r="1.9" fill="#111"/>
<circle cx="860.1" cy="484.7" r="1.9" fill="#111"/>
<path d="M831.4,511.5 H845.6 M845.6,503.6 H861 V507.5" fill="none" stroke="#111" stroke-width="3.6"/>
<path d="M831.4,534.4 H845.6 M845.6,526.3 H861 V530" fill="none" stroke="#9a9a9a" stroke-width="3.6"/>
<text x="884.0" y="422.8" font-size="17.8" text-anchor="start" fill="#111" >Control</text>
<text x="983.5" y="445.3" font-size="17.5" text-anchor="end" fill="#111" >0.5 μ<tspan font-size="75%">M</tspan> PS-341</text>
<text x="983.5" y="468.4" font-size="17.5" text-anchor="end" fill="#111" >1 μ<tspan font-size="75%">M</tspan> PS-341</text>
<text x="983.5" y="491.2" font-size="17.5" text-anchor="end" fill="#111" >5 μ<tspan font-size="75%">M</tspan> PS-341</text>
<text x="983.5" y="514.1" font-size="17.5" text-anchor="end" fill="#111" >10 μ<tspan font-size="75%">M</tspan> PS-341</text>
<text x="983.5" y="536.9" font-size="17.5" text-anchor="end" fill="#111" >20 μ<tspan font-size="75%">M</tspan> PS-341</text>
<defs><filter id="b1" x="-50%" y="-50%" width="200%" height="200%"><feGaussianBlur stdDeviation="1.0"/></filter><filter id="b2" x="-50%" y="-50%" width="200%" height="200%"><feGaussianBlur stdDeviation="1.8"/></filter><filter id="b3" x="-50%" y="-50%" width="200%" height="200%"><feGaussianBlur stdDeviation="3"/></filter><filter id="b4" x="-50%" y="-50%" width="200%" height="200%"><feGaussianBlur stdDeviation="4.5"/></filter><pattern id="stripes" width="20" height="5.3" patternUnits="userSpaceOnUse" y="1"><rect width="20" height="1.7" fill="#fff" opacity="0.08"/></pattern><clipPath id="cB"><rect x="51.2" y="781.2" width="173.7" height="152.7"/></clipPath><clipPath id="cBg"><rect x="51.7" y="941.1" width="173.9" height="24.9"/></clipPath><clipPath id="cC"><rect x="279.8" y="781.3" width="144.2" height="152.7"/></clipPath><clipPath id="cCg"><rect x="280.3" y="941.3" width="144.2" height="25.1"/></clipPath><clipPath id="cF"><rect x="670.3" y="909.3" width="57.6" height="116.4"/></clipPath><clipPath id="cFg"><rect x="670.3" y="1031.1" width="57.6" height="18.2"/></clipPath><linearGradient id="gB2" gradientUnits="userSpaceOnUse" x1="0" y1="787" x2="0" y2="824"><stop offset="0.0000" stop-color="#151515" stop-opacity="1"/><stop offset="0.2703" stop-color="#1c1c1c" stop-opacity="1"/><stop offset="0.4595" stop-color="#3a3a3a" stop-opacity="1"/><stop offset="0.6757" stop-color="#777" stop-opacity="0.6"/><stop offset="1.0000" stop-color="#a7a7a7" stop-opacity="0"/></linearGradient><linearGradient id="gB3" gradientUnits="userSpaceOnUse" x1="0" y1="789" x2="0" y2="824"><stop offset="0.0000" stop-color="#151515" stop-opacity="1"/><stop offset="0.2286" stop-color="#1a1a1a" stop-opacity="1"/><stop offset="0.4000" stop-color="#555" stop-opacity="1"/><stop offset="0.6286" stop-color="#909090" stop-opacity="0.6"/><stop offset="1.0000" stop-color="#a7a7a7" stop-opacity="0"/></linearGradient><linearGradient id="gB4" gradientUnits="userSpaceOnUse" x1="0" y1="791" x2="0" y2="876"><stop offset="0.0000" stop-color="#0e0e0e" stop-opacity="1"/><stop offset="0.2000" stop-color="#111" stop-opacity="1"/><stop offset="0.2824" stop-color="#303030" stop-opacity="1"/><stop offset="0.3647" stop-color="#5a5a5a" stop-opacity="1"/><stop offset="0.4824" stop-color="#777" stop-opacity="1"/><stop offset="0.6353" stop-color="#888" stop-opacity="0.9"/><stop offset="0.8118" stop-color="#959595" stop-opacity="0.6"/><stop offset="1.0000" stop-color="#a7a7a7" stop-opacity="0"/></linearGradient><linearGradient id="gC1" gradientUnits="userSpaceOnUse" x1="0" y1="785" x2="0" y2="934"><stop offset="0.0000" stop-color="#6a6a6a"/><stop offset="0.0336" stop-color="#606060"/><stop offset="0.0671" stop-color="#7a7a7a"/><stop offset="0.1007" stop-color="#666"/><stop offset="0.1342" stop-color="#4a4a4a"/><stop offset="0.1812" stop-color="#404040"/><stop offset="0.2215" stop-color="#333"/><stop offset="0.2752" stop-color="#2e2e2e"/><stop offset="0.3154" stop-color="#383838"/><stop offset="0.3557" stop-color="#333"/><stop offset="0.4027" stop-color="#4a4a4a"/><stop offset="0.4497" stop-color="#5a5a5a"/><stop offset="0.4899" stop-color="#707070"/><stop offset="0.5436" stop-color="#858585"/><stop offset="0.5839" stop-color="#959595"/><stop offset="0.6242" stop-color="#b0b0b0"/><stop offset="0.6644" stop-color="#aaaaaa"/><stop offset="0.6913" stop-color="#a8a8a8"/><stop offset="0.7181" stop-color="#b8b8b8"/><stop offset="0.7718" stop-color="#bcbcbc"/><stop offset="0.7987" stop-color="#8a8a8a"/><stop offset="0.8221" stop-color="#5e5e5e"/><stop offset="0.8456" stop-color="#707070"/><stop offset="0.8658" stop-color="#a8a8a8"/><stop offset="0.8926" stop-color="#c5c5c5"/><stop offset="1.0000" stop-color="#cacaca"/></linearGradient><linearGradient id="gC2" gradientUnits="userSpaceOnUse" x1="0" y1="785" x2="0" y2="934"><stop offset="0.0000" stop-color="#555"/><stop offset="0.0470" stop-color="#4e4e4e"/><stop offset="0.1007" stop-color="#444"/><stop offset="0.1544" stop-color="#4a4a4a"/><stop offset="0.2013" stop-color="#363636"/><stop offset="0.2752" stop-color="#333"/><stop offset="0.3289" stop-color="#3a3a3a"/><stop offset="0.3826" stop-color="#444"/><stop offset="0.4362" stop-color="#4a4a4a"/><stop offset="0.4899" stop-color="#606060"/><stop offset="0.5436" stop-color="#6a6a6a"/><stop offset="0.5973" stop-color="#777"/><stop offset="0.6376" stop-color="#999"/><stop offset="0.6644" stop-color="#b0b0b0"/><stop offset="0.6913" stop-color="#a5a5a5"/><stop offset="0.7181" stop-color="#bbbbbb"/><stop offset="0.7852" stop-color="#bbbbbb"/><stop offset="0.8121" stop-color="#7a7a7a"/><stop offset="0.8356" stop-color="#555"/><stop offset="0.8591" stop-color="#707070"/><stop offset="0.8792" stop-color="#aaaaaa"/><stop offset="0.9060" stop-color="#c0c0c0"/><stop offset="0.9463" stop-color="#b5b5b5"/><stop offset="1.0000" stop-color="#c8c8c8"/></linearGradient><linearGradient id="gC3" gradientUnits="userSpaceOnUse" x1="0" y1="785" x2="0" y2="934"><stop offset="0.0000" stop-color="#383838"/><stop offset="0.0671" stop-color="#2c2c2c"/><stop offset="0.2013" stop-color="#262626"/><stop offset="0.3356" stop-color="#2a2a2a"/><stop offset="0.4027" stop-color="#3c3c3c"/><stop offset="0.5034" stop-color="#464646"/><stop offset="0.6040" stop-color="#4e4e4e"/><stop offset="0.6913" stop-color="#4a4a4a"/><stop offset="0.7450" stop-color="#666"/><stop offset="0.7785" stop-color="#3a3a3a"/><stop offset="0.8121" stop-color="#2a2a2a"/><stop offset="0.8591" stop-color="#2e2e2e"/><stop offset="0.8859" stop-color="#777"/><stop offset="0.9195" stop-color="#a0a0a0"/><stop offset="1.0000" stop-color="#b8b8b8"/></linearGradient><linearGradient id="gC4" gradientUnits="userSpaceOnUse" x1="0" y1="785" x2="0" y2="934"><stop offset="0.0000" stop-color="#3e3e3e"/><stop offset="0.1007" stop-color="#333"/><stop offset="0.2349" stop-color="#2e2e2e"/><stop offset="0.3557" stop-color="#3a3a3a"/><stop offset="0.4362" stop-color="#505050"/><stop offset="0.5705" stop-color="#606060"/><stop offset="0.7047" stop-color="#646464"/><stop offset="0.7383" stop-color="#707070"/><stop offset="0.7718" stop-color="#444"/><stop offset="0.8188" stop-color="#383838"/><stop offset="0.8591" stop-color="#505050"/><stop offset="0.8859" stop-color="#999"/><stop offset="0.9195" stop-color="#b0b0b0"/><stop offset="1.0000" stop-color="#c4c4c4"/></linearGradient><linearGradient id="gF" gradientUnits="userSpaceOnUse" x1="0" y1="912" x2="0" y2="1022"><stop offset="0.0000" stop-color="#b0b0b0"/><stop offset="0.0455" stop-color="#7a7a7a"/><stop offset="0.0727" stop-color="#808080"/><stop offset="0.1000" stop-color="#a5a5a5"/><stop offset="0.1455" stop-color="#9a9a9a"/><stop offset="0.2000" stop-color="#8e8e8e"/><stop offset="0.2545" stop-color="#999999"/><stop offset="0.3000" stop-color="#888888"/><stop offset="0.3455" stop-color="#6a6a6a"/><stop offset="0.3909" stop-color="#555555"/><stop offset="0.4364" stop-color="#404040"/><stop offset="0.4727" stop-color="#1e1e1e"/><stop offset="0.5318" stop-color="#222222"/><stop offset="0.5636" stop-color="#505050"/><stop offset="0.6091" stop-color="#8a8a8a"/><stop offset="0.6545" stop-color="#909090"/><stop offset="0.7000" stop-color="#9a9a9a"/><stop offset="0.7455" stop-color="#b0b0b0"/><stop offset="0.7909" stop-color="#acacac"/><stop offset="0.8273" stop-color="#8e8e8e"/><stop offset="0.8636" stop-color="#acacac"/><stop offset="0.9000" stop-color="#a8a8a8"/><stop offset="0.9273" stop-color="#8e8e8e"/><stop offset="0.9636" stop-color="#b0b0b0"/><stop offset="1.0000" stop-color="#bbbbbb"/></linearGradient></defs>
<text x="11.8" y="749.7" font-size="21.5" text-anchor="start" font-weight="bold" fill="#111" >(B)</text>
<g transform="translate(57.7,762.8) scale(1.0)" fill="none" stroke="#3a3a3a" stroke-width="0.9"><circle cx="0" cy="0" r="4.9"/><line x1="0" y1="4.9" x2="0" y2="13.4"/><line x1="-4.8" y1="9.3" x2="4.8" y2="9.3"/><line x1="8.6" y1="9.6" x2="12.3" y2="-4.6" stroke="#111" stroke-width="1.6"/><circle cx="19" cy="7" r="5"/><line x1="21" y1="2.3" x2="24.5" y2="-4.8"/><polyline points="18.8,-2.8 24.5,-4.8 26.0,0.4"/></g>
<rect x="51.2" y="781.2" width="173.7" height="152.7" fill="#b3b3b3"/>
<g clip-path="url(#cB)">
<g filter="url(#b3)"><rect x="77" y="786" width="21" height="150" fill="#aeaeae"/><rect x="106" y="786" width="35" height="150" fill="#a7a7a7"/><rect x="148" y="786" width="35" height="150" fill="#a9a9a9"/><rect x="190" y="786" width="35" height="150" fill="#a7a7a7"/><rect x="141" y="786" width="6" height="150" fill="#b9b9b9"/><rect x="183.5" y="786" width="6" height="150" fill="#b9b9b9"/></g>
<g filter="url(#b2)">
<rect x="80" y="788.5" width="15" height="9" fill="#8c8c8c"/>
<path d="M63,812 L80,790 L84,792 L68,814 Z" fill="#a8a8a8"/>
<rect x="109" y="787.5" width="29.5" height="34" fill="url(#gB2)"/>
<ellipse cx="124" cy="800" rx="9" ry="5" fill="#1a1a1a"/>
<rect x="151" y="789.5" width="30.5" height="33" fill="url(#gB3)"/>
<ellipse cx="166" cy="811" rx="9" ry="7" fill="#a2a2a2"/>
<rect x="193" y="791.5" width="30.5" height="85" fill="url(#gB4)"/>
</g>
<circle cx="73.5" cy="871.5" r="1.4" fill="#333"/>
</g>
<rect x="51.2" y="781.2" width="173.7" height="152.7" fill="none" stroke="#1a1a1a" stroke-width="1.6"/>
<rect x="51.7" y="941.1" width="173.9" height="24.9" fill="#bcbcbc"/>
<g clip-path="url(#cBg)" filter="url(#b1)"><path d="M58,947 Q60,945 70,947 L85,949 L85,956 L58,955 Z" fill="#404040"/><rect x="100" y="951" width="30.5" height="8.5" rx="3" fill="#4a4a4a"/><rect x="144" y="954" width="28.5" height="9" rx="3" fill="#454545"/><rect x="186" y="954" width="28.5" height="9" rx="3" fill="#484848"/></g>
<rect x="51.7" y="941.1" width="173.9" height="24.9" fill="none" stroke="#1a1a1a" stroke-width="1.6"/>
<text x="16.3" y="880.4" font-size="19.8" text-anchor="start" fill="#111" >Ub</text>
<text transform="translate(5.5,987) rotate(-50)" font-size="18" fill="#111">GAPDH</text>
<text x="61.0" y="988.8" font-size="19" text-anchor="start" fill="#111" >Co</text>
<text transform="translate(101.5,1001) rotate(-30)" font-size="19" fill="#111">5 μ<tspan font-size="75%">M</tspan></text>
<text transform="translate(139.5,1005.5) rotate(-30)" font-size="19" fill="#111">10 μ<tspan font-size="75%">M</tspan></text>
<text transform="translate(180,1007) rotate(-30)" font-size="19" fill="#111">20 μ<tspan font-size="75%">M</tspan></text>
<line x1="103.8" y1="1015.6" x2="206.0" y2="1015.6" stroke="#111" stroke-width="1.3" />
<text x="155.6" y="1040.8" font-size="19" text-anchor="middle" fill="#111" >PS-341</text>
<text x="242.7" y="749.7" font-size="21.5" text-anchor="start" font-weight="bold" fill="#111" >(C)</text>
<g transform="translate(284.3,762.8) scale(1.0)" fill="none" stroke="#3a3a3a" stroke-width="0.9"><circle cx="0" cy="0" r="4.9"/><line x1="0" y1="4.9" x2="0" y2="13.4"/><line x1="-4.8" y1="9.3" x2="4.8" y2="9.3"/><line x1="8.6" y1="9.6" x2="12.3" y2="-4.6" stroke="#111" stroke-width="1.6"/><circle cx="19" cy="7" r="5"/><line x1="21" y1="2.3" x2="24.5" y2="-4.8"/><polyline points="18.8,-2.8 24.5,-4.8 26.0,0.4"/></g>
<rect x="279.8" y="781.3" width="144.2" height="152.7" fill="#d1d1d1"/>
<g clip-path="url(#cC)" filter="url(#b1)">
<polygon points="299,785.5 325.5,785.5 312,930 286,930" fill="url(#gC1)"/>
<polygon points="299,785.5 325.5,785.5 312,930 286,930" fill="url(#stripes)"/>
<polygon points="334.5,785.5 360,785.5 350,930 324,930" fill="url(#gC2)"/>
<polygon points="334.5,785.5 360,785.5 350,930 324,930" fill="url(#stripes)"/>
<polygon points="368.5,785.5 393.5,785.5 386,930 358.5,930" fill="url(#gC3)"/>
<polygon points="368.5,785.5 393.5,785.5 386,930 358.5,930" fill="url(#stripes)"/>
<polygon points="400,785.5 425,785.5 418,930 394,930" fill="url(#gC4)"/>
<polygon points="400,785.5 425,785.5 418,930 394,930" fill="url(#stripes)"/>
</g>
<rect x="279.8" y="781.3" width="144.2" height="152.7" fill="none" stroke="#1a1a1a" stroke-width="1.6"/>
<rect x="280.3" y="941.3" width="144.2" height="25.1" fill="#d0d0d0"/>
<g clip-path="url(#cCg)" filter="url(#b2)"><rect x="290" y="948.5" width="28" height="9.5" rx="3" fill="#636363"/><rect x="328" y="949.5" width="25" height="9" rx="3" fill="#686868"/><rect x="363" y="947" width="26.5" height="12" rx="3" fill="#555"/><rect x="398" y="948" width="21" height="11" rx="3" fill="#5e5e5e"/><path d="M279,960 Q292,959 312,967 L279,968 Z" fill="#2a2a2a"/></g>
<rect x="280.3" y="941.3" width="144.2" height="25.1" fill="none" stroke="#1a1a1a" stroke-width="1.6"/>
<text x="232.6" y="881.0" font-size="20.9" text-anchor="start" fill="#111" >DNP</text>
<line x1="427.8" y1="796.4" x2="440.4" y2="796.4" stroke="#222" stroke-width="1.5" />
<text x="445.1" y="801.6" font-size="14.3" text-anchor="start" fill="#111" >170 kDa</text>
<line x1="427.8" y1="810.3" x2="440.4" y2="810.3" stroke="#222" stroke-width="1.5" />
<text x="445.1" y="815.5" font-size="14.3" text-anchor="start" fill="#111" >130 kDa</text>
<line x1="427.8" y1="821.3" x2="440.4" y2="821.3" stroke="#222" stroke-width="1.5" />
<text x="445.1" y="826.5" font-size="14.3" text-anchor="start" fill="#111" >100 kDa</text>
<line x1="427.8" y1="840.1" x2="440.4" y2="840.1" stroke="#222" stroke-width="1.5" />
<text x="445.1" y="845.3" font-size="14.3" text-anchor="start" fill="#111" >70 kDa</text>
<line x1="427.8" y1="860.9" x2="440.4" y2="860.9" stroke="#222" stroke-width="1.5" />
<text x="445.1" y="866.1" font-size="14.3" text-anchor="start" fill="#111" >55 kDa</text>
<line x1="427.8" y1="879.4" x2="440.4" y2="879.4" stroke="#222" stroke-width="1.5" />
<text x="445.1" y="884.6" font-size="14.3" text-anchor="start" fill="#111" >40 kDa</text>
<line x1="427.8" y1="896.7" x2="440.4" y2="896.7" stroke="#222" stroke-width="1.5" />
<text x="445.1" y="901.9" font-size="14.3" text-anchor="start" fill="#111" >35 kDa</text>
<line x1="427.8" y1="911.2" x2="440.4" y2="911.2" stroke="#222" stroke-width="1.5" />
<text x="445.1" y="916.4" font-size="14.3" text-anchor="start" fill="#111" >25 kDa</text>
<line x1="427.8" y1="928.2" x2="440.4" y2="928.2" stroke="#222" stroke-width="1.5" />
<text x="445.1" y="933.4" font-size="14.3" text-anchor="start" fill="#111" >15 kDa</text>
<text transform="translate(236.5,986) rotate(-50)" font-size="18" fill="#111">GAPDH</text>
<text x="290.5" y="989.5" font-size="19" text-anchor="start" fill="#111" >Co</text>
<text transform="translate(326.5,1001) rotate(-30)" font-size="19" fill="#111">5 μ<tspan font-size="75%">M</tspan></text>
<text transform="translate(354,1006.3) rotate(-30)" font-size="19" fill="#111">10 μ<tspan font-size="75%">M</tspan></text>
<text transform="translate(392.8,1007) rotate(-30)" font-size="19" fill="#111">20 μ<tspan font-size="75%">M</tspan></text>
<line x1="326.3" y1="1016.2" x2="418.4" y2="1016.2" stroke="#111" stroke-width="1.3" />
<text x="372.4" y="1040.8" font-size="19.8" text-anchor="middle" fill="#111" >PS-341</text>
<text x="526.0" y="902.7" font-size="21.5" text-anchor="start" font-weight="bold" fill="#111" >(F)</text>
<text x="599.3" y="905.0" font-size="19.2" text-anchor="start" fill="#111" >PS-341</text>
<line x1="677.0" y1="900.3" x2="691.0" y2="900.3" stroke="#111" stroke-width="1.6" />
<line x1="707.0" y1="900.3" x2="716.8" y2="900.3" stroke="#111" stroke-width="1.6" />
<line x1="711.9" y1="895.4" x2="711.9" y2="905.2" stroke="#111" stroke-width="1.6" />
<text x="610.7" y="928.8" font-size="19" text-anchor="start" fill="#111" >(1 μ<tspan font-size="75%">M</tspan>)</text>
<g transform="translate(738.8,917.4) scale(1.03)" fill="none" stroke="#3a3a3a" stroke-width="0.9"><circle cx="0" cy="0" r="4.9"/><line x1="0" y1="4.9" x2="0" y2="13.4"/><line x1="-4.8" y1="9.3" x2="4.8" y2="9.3"/><line x1="8.6" y1="9.6" x2="12.3" y2="-4.6" stroke="#111" stroke-width="1.6"/><circle cx="19" cy="7" r="5"/><line x1="21" y1="2.3" x2="24.5" y2="-4.8"/><polyline points="18.8,-2.8 24.5,-4.8 26.0,0.4"/></g>
<rect x="670.3" y="909.3" width="57.6" height="116.4" fill="#c3c3c3"/>
<g clip-path="url(#cF)" filter="url(#b1)">
<rect x="676" y="912" width="19.5" height="110" fill="url(#gF)"/>
<rect x="703.3" y="912" width="20.5" height="110" fill="url(#gF)"/>
</g>
<rect x="670.3" y="909.3" width="57.6" height="116.4" fill="none" stroke="#1a1a1a" stroke-width="1.6"/>
<rect x="670.3" y="1031.1" width="57.6" height="18.2" fill="#bdbdbd"/>
<g clip-path="url(#cFg)" fill="#2a2a2a" filter="url(#b1)"><rect x="671" y="1035" width="26" height="8.5"/><rect x="700" y="1035.5" width="26" height="8"/></g>
<rect x="670.3" y="1031.1" width="57.6" height="18.2" fill="none" stroke="#1a1a1a" stroke-width="1.6"/>
<text x="611.3" y="979.8" font-size="19.2" text-anchor="start" fill="#111" >AGEs</text>
<text x="600.5" y="1046.8" font-size="17.7" text-anchor="start" fill="#111" >GAPDH</text>
</svg></body></html>
